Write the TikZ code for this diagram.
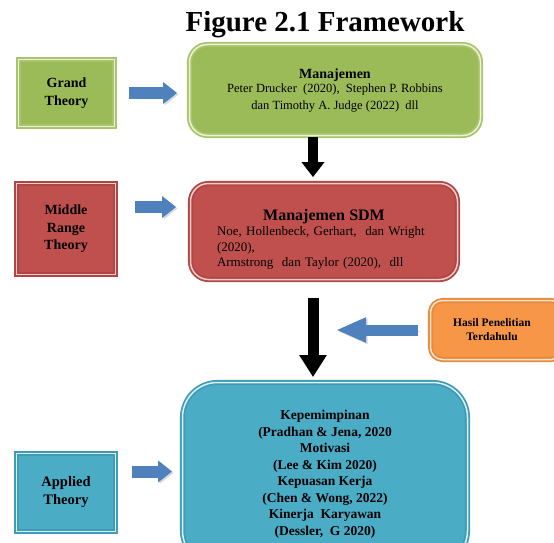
\documentclass[tikz,border=0pt]{standalone}
\usepackage{fontspec}
\setmainfont{Liberation Serif}
\usetikzlibrary{arrows.meta, calc, positioning}
\definecolor{grfill}{HTML}{9BBB59}
\definecolor{grrim}{HTML}{A9C46C}
\definecolor{grline}{HTML}{EAF1D6}
\definecolor{rdfill}{HTML}{C0504D}
\definecolor{rdrim}{HTML}{AD4744}
\definecolor{rdline}{HTML}{F4CBCA}
\definecolor{orfill}{HTML}{F79646}
\definecolor{orrim}{HTML}{E68A40}
\definecolor{orline}{HTML}{FDE3CC}
\definecolor{blfill}{HTML}{4BACC6}
\definecolor{blrim}{HTML}{419BB4}
\definecolor{blline}{HTML}{D8F1F7}
\definecolor{arrblue}{HTML}{4F81BD}

\begin{document}
\begin{tikzpicture}[x=1pt, y=-1pt,
        panel/.style={draw=#1rim, double=#1line, double distance=1.5pt, line width=1.8pt,
                fill=#1fill, align=center, inner sep=0pt},
        theory/.style={panel=#1, font=\bfseries\fontsize{14}{17.5}\selectfont},
        bluearrow/.style={-{Triangle[width=21pt,length=14pt]}, line width=12pt, draw=arrblue,
                preaction={draw=black!15, transform canvas={shift={(1.5pt,-1.5pt)}}}},
        blackarrow/.style={-{Triangle[width=#1]}, line width=10.5pt, draw=black}]
    \useasboundingbox (0,0) rectangle (554,543);
    \clip (0,0) rectangle (554,543);
    \node[font=\bfseries\fontsize{29}{32}\selectfont] (title) at (325,25) {Figure 2.1 Framework};
    \node[theory=gr, minimum width=96pt, minimum height=67pt] (grand) at (66.5,93) {Grand\\Theory};
    \node[panel=gr, rounded corners=18pt, minimum width=291pt, minimum height=91pt,
            font=\fontsize{12.5}{17}\selectfont] (manaj) at (335,90)
        {{\bfseries\fontsize{14}{14}\selectfont Manajemen}\\[-3pt]
         Peter Drucker~ (2020),~ Stephen P. Robbins\\
         dan Timothy A. Judge (2022)~ dll};
    \node[theory=rd, minimum width=99pt, minimum height=91pt] (middle) at (66,229) {Middle\\Range\\Theory};
    \node[panel=rd, rounded corners=18pt, minimum width=267pt, minimum height=96pt,
            text width=214pt, align=left, font=\fontsize{13}{15.5}\selectfont] (sdm) at (324,231.5)
        {\makebox[\linewidth][c]{\rule{0pt}{27pt}\bfseries\fontsize{16}{16}\selectfont Manajemen SDM}\\
         Noe, Hollenbeck, Gerhart,~ dan Wright\\
         (2020),\\
         Armstrong~ dan Taylor (2020),~ dll};
    \node[panel=or, rounded corners=12pt, minimum width=133pt, minimum height=59pt,
            font=\bfseries\fontsize{11.5}{14}\selectfont] (hasil) at (497,330)
        {\hspace*{-10pt}Hasil Penelitian\\\hspace*{-10pt}Terdahulu};
    \node[theory=bl, minimum width=99pt, minimum height=78pt,
            font=\bfseries\fontsize{14.5}{18}\selectfont] (applied) at (66,492.5) {Applied\\Theory};
    \node[panel=bl, rounded corners=35pt, minimum width=285pt, minimum height=183pt,
            font=\bfseries\fontsize{13.5}{16.5}\selectfont] (work) at (325,474)
        {Kepemimpinan\\(Pradhan \& Jena, 2020\\Motivasi\\(Lee \& Kim 2020)\\Kepuasan Kerja\\
         (Chen \& Wong, 2022)\\Kinerja~ Karyawan\\(Dessler,~ G 2020)};
    \coordinate (axis) at (313,0);
    \coordinate (hasilend) at ($(axis |- hasil.west)+(23,0)$);
    \draw[bluearrow, shorten <=13.5pt, shorten >=11.5pt] (grand.east) -- (grand.east -| manaj.west);
    \draw[bluearrow, shorten <=18.5pt, shorten >=13.5pt] ([yshift=22pt]middle.east) -- ([yshift=22pt]middle.east -| sdm.west);
    \draw[bluearrow, shorten <=15.5pt, shorten >=9.5pt] ([yshift=21pt]applied.east) -- ([yshift=21pt]applied.east -| work.west);
    \draw[bluearrow, -{Triangle[width=23pt,length=30pt]}, line width=11pt, shorten <=11.5pt]
        (hasil.west) -- (hasilend);
    \draw[blackarrow={22pt,length=15pt}, shorten <=1pt, shorten >=5.5pt] (manaj.south -| axis) -- (sdm.north -| axis);
    \draw[blackarrow={26pt,length=22pt}, line width=11pt, shorten <=17.5pt, shorten >=4.5pt] (sdm.south -| axis) -- (work.north -| axis);
\end{tikzpicture}
\end{document}
